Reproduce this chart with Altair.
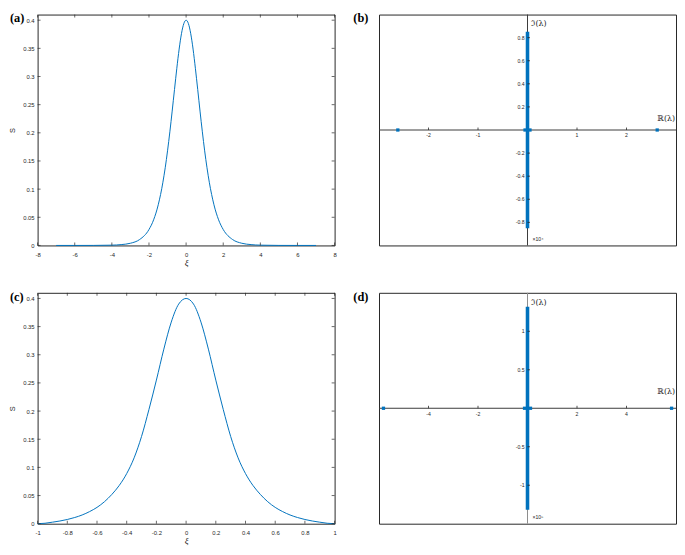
import altair as alt
import pandas as pd

# ---------------- data ----------------
# panel (a): soliton profile S(xi)
a_xi = [-7, -6, -5, -4, -3.5, -3, -2.5, -2, -1.75, -1.5, -1.25, -1.125, -1, -0.875, -0.75,
        -0.625, -0.5, -0.375, -0.25, -0.125, 0, 0.125, 0.25, 0.375, 0.5, 0.625, 0.75, 0.875,
        1, 1.125, 1.25, 1.5, 1.75, 2, 2.5, 3, 3.5, 4, 5, 6, 7]
a_s = [0, 0.00001, 0.00007, 0.0005, 0.0015, 0.0039, 0.0106, 0.0283, 0.0455, 0.0723, 0.1122,
       0.138, 0.168, 0.2018, 0.2386, 0.277, 0.3146, 0.3487, 0.376, 0.3938, 0.4, 0.3938, 0.376,
       0.3487, 0.3146, 0.277, 0.2386, 0.2018, 0.168, 0.138, 0.1122, 0.0723, 0.0455, 0.0283,
       0.0106, 0.0039, 0.0015, 0.0005, 0.00007, 0.00001, 0]
a_xticks = [-8, -6, -4, -2, 0, 2, 4, 6, 8]

# panel (c)
c_xi = [-1, -0.95, -0.9, -0.85, -0.8, -0.75, -0.7, -0.65, -0.6, -0.55, -0.5, -0.45, -0.4,
        -0.35, -0.3, -0.25, -0.2, -0.15, -0.1, -0.05, 0, 0.05, 0.1, 0.15, 0.2, 0.25, 0.3,
        0.35, 0.4, 0.45, 0.5, 0.55, 0.6, 0.65, 0.7, 0.75, 0.8, 0.85, 0.9, 0.95, 1]
c_s = [0, 0.0008, 0.0027, 0.0048, 0.0075, 0.011, 0.0155, 0.0215, 0.029, 0.039, 0.052, 0.068,
       0.089, 0.117, 0.155, 0.203, 0.255, 0.31, 0.358, 0.39, 0.4, 0.39, 0.358, 0.31, 0.255,
       0.203, 0.155, 0.117, 0.089, 0.068, 0.052, 0.039, 0.029, 0.0215, 0.0155, 0.011, 0.0075,
       0.0048, 0.0027, 0.0008, 0]
c_xticks = [-1, -0.8, -0.6, -0.4, -0.2, 0, 0.2, 0.4, 0.6, 0.8, 1]

s_ticks = [0, 0.05, 0.1, 0.15, 0.2, 0.25, 0.3, 0.35, 0.4]

# panel (b): spectrum (x10^4)
b_real = [-2.62, -0.05, 0.05, 2.62]
b_imag = [-0.85, 0.85]
b_xticks = [-2, -1, 1, 2]
b_yticks = [-0.8, -0.6, -0.4, -0.2, 0.2, 0.4, 0.6, 0.8]

# panel (d): spectrum (x10^5)
d_real = [-5.82, -0.12, 0.12, 5.82]
d_imag = [-1.32, 1.32]
d_xticks = [-4, -2, 2, 4]
d_yticks = [-1, -0.5, 0.5, 1]

# ---------------- style ----------------
W, H = 301, 234
BLUE = "#0072BD"
AX = "#262626"
TXT = "#262626"
SANS = "Liberation Sans"
SERIF = "Liberation Serif"
MATHF = "DejaVu Serif"
FS = 6.0      # tick labels of (a), (c)
FS2 = 5.2     # tick labels of (b), (d)


def fmt(v):
    return f"{v:g}"


def panel_label(text, dx):
    return alt.Chart(pd.DataFrame({"t": [text]})).mark_text(
        align="left", baseline="top", font=SERIF, fontWeight="bold", fontSize=12.5, color="black"
    ).encode(x=alt.value(dx), y=alt.value(-2), text="t:N")


def curve_panel(xi, s, xdom, xt, label):
    sx = alt.Scale(domain=xdom, nice=False, zero=False)
    sy = alt.Scale(domain=[0, 0.41], nice=False, zero=False)
    xaxis = alt.Axis(values=xt, title="ξ", format="~g", labelPadding=6, titlePadding=1,
                     titleFont=SERIF, titleFontStyle="italic", titleFontSize=9)
    yaxis = alt.Axis(values=s_ticks, title="S", format="~g", labelPadding=3.5, titlePadding=6,
                     titleFont=SANS, titleFontSize=7.5)
    df = pd.DataFrame({"xv": xi, "yv": s})
    line = alt.Chart(df).mark_line(color=BLUE, strokeWidth=1, interpolate="monotone").encode(
        x=alt.X("xv:Q", scale=sx, axis=xaxis),
        y=alt.Y("yv:Q", scale=sy, axis=yaxis),
    )
    tx = pd.DataFrame({"xv": xt})
    ty = pd.DataFrame({"yv": s_ticks})
    X = alt.X("xv:Q", scale=sx, axis=xaxis)
    Y = alt.Y("yv:Q", scale=sy, axis=yaxis)
    rule = dict(color=AX, strokeWidth=0.7)
    bot = alt.Chart(tx).mark_rule(**rule).encode(x=X, y=alt.value(H), y2=alt.value(H - 3))
    top = alt.Chart(tx).mark_rule(**rule).encode(x=X, y=alt.value(0), y2=alt.value(3))
    left = alt.Chart(ty).mark_rule(**rule).encode(y=Y, x=alt.value(0), x2=alt.value(3))
    right = alt.Chart(ty).mark_rule(**rule).encode(y=Y, x=alt.value(W), x2=alt.value(W - 3))
    return alt.layer(line, bot, top, left, right, panel_label(label, -28)).properties(
        width=W, height=H)


def eig_panel(xdom, ydom, real, imag, xt, yt, label, expo, rdy, vcol):
    sx = alt.Scale(domain=xdom, nice=False, zero=False)
    sy = alt.Scale(domain=ydom, nice=False, zero=False)

    def X(f):
        return alt.X(f, type="quantitative", scale=sx, axis=None)

    def Y(f):
        return alt.Y(f, type="quantitative", scale=sy, axis=None)

    z = pd.DataFrame({"z": [0]})
    hline = alt.Chart(z).mark_rule(color="#3a3a3a", strokeWidth=1).encode(
        x=alt.value(0), x2=alt.value(W), y=Y("z"))
    vline = alt.Chart(z).mark_rule(color=vcol, strokeWidth=1).encode(
        y=alt.value(0), y2=alt.value(H), x=X("z"))
    band = alt.Chart(pd.DataFrame({"re": [0], "lo": [imag[0]], "hi": [imag[1]]})).mark_rule(
        color=BLUE, strokeWidth=3.6).encode(x=X("re"), y=Y("lo"), y2=alt.Y2("hi"))
    pts = alt.Chart(pd.DataFrame({"re": real, "im": [0] * len(real)})).mark_square(
        size=11, color=BLUE, opacity=1).encode(x=X("re"), y=Y("im"))
    xt_df = pd.DataFrame({"t": xt, "z": [0] * len(xt), "lab": [fmt(v) for v in xt]})
    yt_df = pd.DataFrame({"t": yt, "z": [0] * len(yt), "lab": [fmt(v) for v in yt]})
    xtick = alt.Chart(xt_df).mark_rule(color=AX, strokeWidth=0.8, y2Offset=-2.5).encode(
        x=X("t"), y=Y("z"), y2=alt.Y2("z"))
    ytick = alt.Chart(yt_df).mark_rule(color=AX, strokeWidth=0.8, x2Offset=2.5).encode(
        y=Y("t"), x=X("z"), x2=alt.X2("z"))
    xlab = alt.Chart(xt_df).mark_text(baseline="top", dy=3.5, font=SANS, fontSize=FS2, color=TXT).encode(
        x=X("t"), y=Y("z"), text="lab:N")
    ylab = alt.Chart(yt_df).mark_text(align="right", baseline="middle", dx=-3, font=SANS,
                                      fontSize=FS2, color=TXT).encode(y=Y("t"), x=X("z"), text="lab:N")
    im_lab = alt.Chart(z).mark_text(text="ℑ(λ)", align="left", baseline="middle", dx=4, font=MATHF,
                                    fontSize=8, color=TXT).encode(x=X("z"), y=alt.value(10))
    re_lab = alt.Chart(z).mark_text(text="ℝ(λ)", align="right", baseline="middle", dy=rdy, font=MATHF,
                                    fontSize=8, color=TXT).encode(x=alt.value(W - 1), y=Y("z"))
    ex_lab = alt.Chart(z).mark_text(text=expo, align="left", baseline="middle", dx=5, font=SANS,
                                    fontSize=FS2, color=TXT).encode(x=X("z"), y=alt.value(H - 7))
    return alt.layer(hline, vline, band, pts, xtick, ytick, xlab, ylab, im_lab, re_lab, ex_lab,
                     panel_label(label, -26)).properties(width=W, height=H)


pa = curve_panel(a_xi, a_s, [-8, 8], a_xticks, "(a)")
pb = eig_panel([-3, 3], [-1, 1], b_real, b_imag, b_xticks, b_yticks, "(b)", "×10⁴", -11, "#3a3a3a")
pc = curve_panel(c_xi, c_s, [-1, 1], c_xticks, "(c)")
pd_ = eig_panel([-6, 6], [-1.5, 1.5], d_real, d_imag, d_xticks, d_yticks, "(d)", "×10⁵", -16, "#8c8c8c")

chart = alt.concat(pa, pb, pc, pd_, columns=2, spacing={"row": 48, "column": 45},
                   bounds="flush").properties(padding=0).configure_view(
    stroke=AX, strokeWidth=1).configure_axis(
    labelFont=SANS, labelFontSize=FS, labelColor=TXT, titleColor=TXT, ticks=False,
    domain=False, grid=False, labelFlush=False, labelOverlap=False, titleFontWeight="normal")

chart.save("out.html", embed_options={
    "renderer": "svg", "actions": False,
    "formatLocale": {"decimal": ".", "thousands": ",", "grouping": [3],
                     "currency": ["$", ""], "minus": "-"}})
